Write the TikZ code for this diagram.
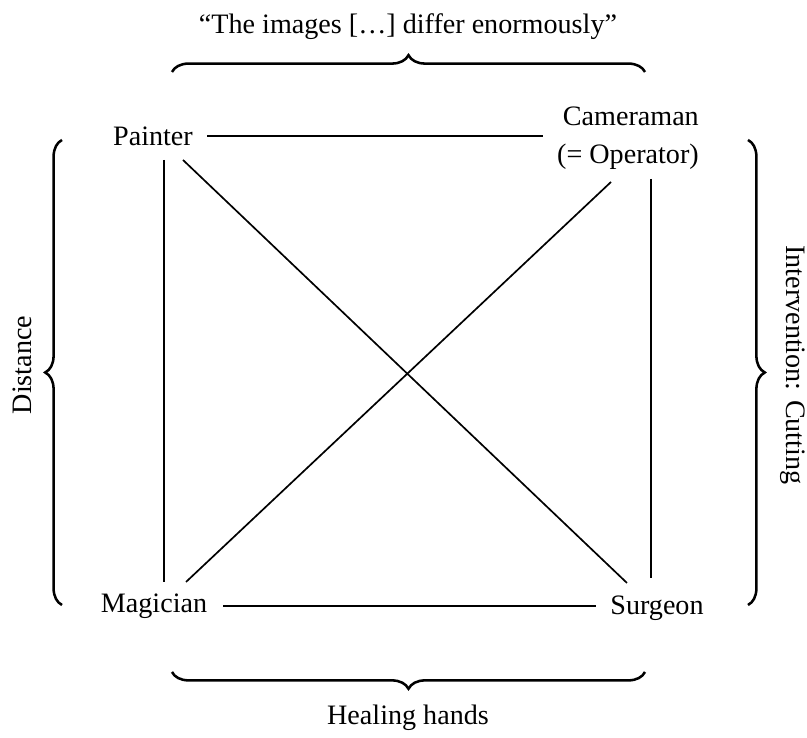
\documentclass[tikz,border=0pt]{standalone}
\usepackage{fontspec}
\setmainfont{Liberation Serif}
\usepackage{tikz}
\usetikzlibrary{calc,decorations.pathreplacing}

\begin{document}
\begin{tikzpicture}[
  x=0.0125cm, y=0.0125cm, every node/.style={font=\normalsize},
  who/.style={inner sep=2pt},
  ln/.style={line width=0.6pt, black},
  brc/.style={line width=0.9pt, decorate, decoration={brace, amplitude=0.21cm}},
  lbl/.style={inner sep=1pt},
]
\useasboundingbox (0,0) rectangle (807,738);
% ---------------- roles ----------------
\node[who] (painter) at (153,602) {Painter};
\node[who, align=right] (cam) at (628,600) {Cameraman\\[1.5pt](= Operator)};
\node[who] (mag) at (154,132) {Magician};
\node[who] (surg) at (657,130) {Surgeon};
% ---------------- links ----------------
\draw[ln, shorten <=3pt, shorten >=3pt] (painter.east) -- (painter.east -| cam.west);
\draw[ln, shorten <=3.5pt, shorten >=3pt] (mag.east) -- (mag.east -| surg.west);
\draw[ln] ($(painter)+(11,-24)$) -- ($(mag)+(10,24)$);
\draw[ln] ($(cam)+(23,-41)$) -- ($(surg)+(-6,30)$);
\draw[ln] ($(painter)+(30,-24)$) -- ($(surg)+(-30,25)$);
\draw[ln] ($(cam)+(-17,-44)$) -- ($(mag)+(32,24)$);
% ---------------- braces ----------------
\draw[brc] (172,666) -- (645,666);
\node[lbl] (top) at (408,711) {“The images […] differ enormously”};
\draw[brc] (645,66) -- (172,66);
\node[lbl] (bot) at (408,20) {Healing hands};
\draw[brc] (62,133) -- (62,598);
\node[lbl, rotate=90] (lft) at (22,373) {Distance};
\draw[brc] (748,598) -- (748,133);
\node[lbl, rotate=-90] (rgt) at (793,373) {Intervention: Cutting};
\end{tikzpicture}
\end{document}
